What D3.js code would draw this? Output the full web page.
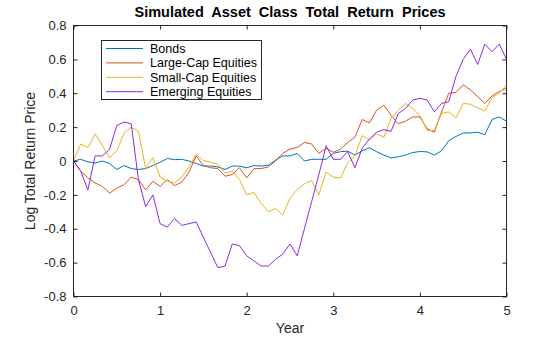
<!DOCTYPE html>
<html><head><meta charset="utf-8">
<script src="https://cdn.jsdelivr.net/npm/d3@7"></script>
<style>body{margin:0;background:#fff}svg{display:block}text{font-family:"Liberation Sans",Arial,sans-serif}</style>
</head><body><div id="c"></div>
<script>
const months = d3.range(0, 61);
const bonds = [0,0.01,-0.005,-0.012,0,-0.015,-0.05,-0.027,-0.045,-0.05,-0.045,-0.027,-0.007,0.015,0.008,0.01,0,-0.015,-0.03,-0.03,-0.035,-0.05,-0.03,-0.03,-0.04,-0.027,-0.03,-0.025,0.005,0.03,0.03,0.045,0,0.01,0.01,0.01,0.045,0.055,0.058,0.035,0.06,0.078,0.055,0.035,0.018,0.025,0.035,0.05,0.056,0.054,0.035,0.06,0.12,0.145,0.165,0.166,0.17,0.156,0.245,0.26,0.235];
const largeCap = [0,-0.06,-0.10,-0.13,-0.15,-0.19,-0.16,-0.14,-0.095,-0.11,-0.17,-0.12,-0.15,-0.11,-0.145,-0.125,-0.066,0.03,-0.027,-0.04,-0.045,-0.09,-0.08,-0.04,-0.10,-0.045,-0.045,-0.035,0,0.045,0.07,0.08,0.11,0.10,0.045,0.075,0.052,0.07,0.11,0.14,0.245,0.225,0.30,0.33,0.27,0.22,0.235,0.26,0.26,0.19,0.17,0.29,0.40,0.405,0.45,0.42,0.38,0.34,0.385,0.41,0.43];
const smallCap = [0,0.10,0.08,0.16,0.09,0.02,0.06,0.165,0.20,0.175,-0.045,0.02,-0.095,-0.12,-0.13,-0.095,-0.035,0.038,0.003,-0.007,-0.02,-0.07,-0.06,-0.11,-0.20,-0.185,-0.25,-0.30,-0.28,-0.32,-0.22,-0.17,-0.135,-0.115,-0.20,-0.066,-0.095,-0.10,-0.01,0.03,0.15,0.125,0.16,0.14,0.25,0.30,0.34,0.31,0.27,0.18,0.18,0.28,0.29,0.255,0.34,0.335,0.315,0.295,0.375,0.40,0.45];
const emerging = [0,-0.06,-0.17,0.03,0.03,0.07,0.21,0.23,0.22,-0.11,-0.27,-0.2,-0.37,-0.39,-0.34,-0.38,-0.37,-0.36,-0.45,-0.54,-0.63,-0.62,-0.49,-0.50,-0.56,-0.59,-0.62,-0.62,-0.58,-0.55,-0.49,-0.56,-0.40,-0.24,-0.08,0.09,0.01,0.01,0.055,-0.04,0.075,0.13,0.17,0.185,0.175,0.28,0.31,0.36,0.37,0.36,0.29,0.34,0.35,0.5,0.6,0.66,0.57,0.69,0.645,0.69,0.6];
const seriesNames = ["Bonds","Large-Cap Equities","Small-Cap Equities","Emerging Equities"];
const seriesColors = ["#0072BD","#D95319","#EDB120","#8B2BE2"];
const xTicks = [0,1,2,3,4,5];
const yTicks = [-0.8,-0.6,-0.4,-0.2,0,0.2,0.4,0.6,0.8];

const W=560,H=337;
const svg=d3.select("#c").append("svg").attr("width",W).attr("height",H);
const x=d3.scaleLinear().domain([0,5]).range([73.5,506.5]);
const y=d3.scaleLinear().domain([-0.8,0.8]).range([296.5,25.5]);
const axisColor="#262626";

const all=[bonds,largeCap,smallCap,emerging];
const line=d3.line().x((d,i)=>x(months[i]/12)).y(d=>y(d));
all.forEach((s,k)=>{
  svg.append("path").datum(s).attr("d",line).attr("fill","none")
    .attr("stroke",seriesColors[k]).attr("stroke-width",1).attr("stroke-linejoin","round");
});

const fmt=d=>d===0?"0":d3.format(".1f")(d).replace("−","-");
const gx=svg.append("g").attr("transform",`translate(0,${y(-0.8)})`)
  .call(d3.axisBottom(x).tickValues(xTicks).tickSize(-4).tickPadding(9).tickFormat(d3.format("d")));
const gxt=svg.append("g").attr("transform",`translate(0,${y(0.8)})`)
  .call(d3.axisTop(x).tickValues(xTicks).tickSize(-4).tickFormat(""));
const gy=svg.append("g").attr("transform",`translate(${x(0)},0)`)
  .call(d3.axisLeft(y).tickValues(yTicks).tickSize(-4).tickPadding(7).tickFormat(fmt));
const gyr=svg.append("g").attr("transform",`translate(${x(5)},0)`)
  .call(d3.axisRight(y).tickValues(yTicks).tickSize(-4).tickFormat(""));
[gx,gxt,gy,gyr].forEach(g=>{
  g.select(".domain").remove();
  g.selectAll(".tick line").attr("stroke",axisColor);
  g.selectAll(".tick text").attr("fill",axisColor).attr("font-size",13);
});
svg.append("rect").attr("x",x(0)).attr("y",y(0.8)).attr("width",x(5)-x(0)).attr("height",y(-0.8)-y(0.8))
  .attr("fill","none").attr("stroke",axisColor).attr("stroke-width",1);

svg.append("text").attr("x",290).attr("y",17).attr("text-anchor","middle")
  .attr("font-size",14.5).attr("font-weight","bold").attr("fill","#000").style("white-space","pre")
  .text("Simulated  Asset  Class  Total  Return  Prices");
svg.append("text").attr("x",290).attr("y",333).attr("text-anchor","middle")
  .attr("font-size",14).attr("fill",axisColor).text("Year");
svg.append("text").attr("transform","translate(35,161) rotate(-90)").attr("text-anchor","middle")
  .attr("font-size",14).attr("fill",axisColor).text("Log Total Return Price");

const lg=svg.append("g");
lg.append("rect").attr("x",101.5).attr("y",40.5).attr("width",160).attr("height",59)
  .attr("fill","#fff").attr("stroke",axisColor).attr("stroke-width",1);
seriesNames.forEach((n,k)=>{
  const yy=48.5+k*14.4;
  lg.append("line").attr("x1",106).attr("x2",143).attr("y1",yy).attr("y2",yy)
    .attr("stroke",seriesColors[k]).attr("stroke-width",1);
  lg.append("text").attr("x",150).attr("y",yy+4.5).attr("font-size",12.5).attr("fill","#000").text(n);
});
</script></body></html>
